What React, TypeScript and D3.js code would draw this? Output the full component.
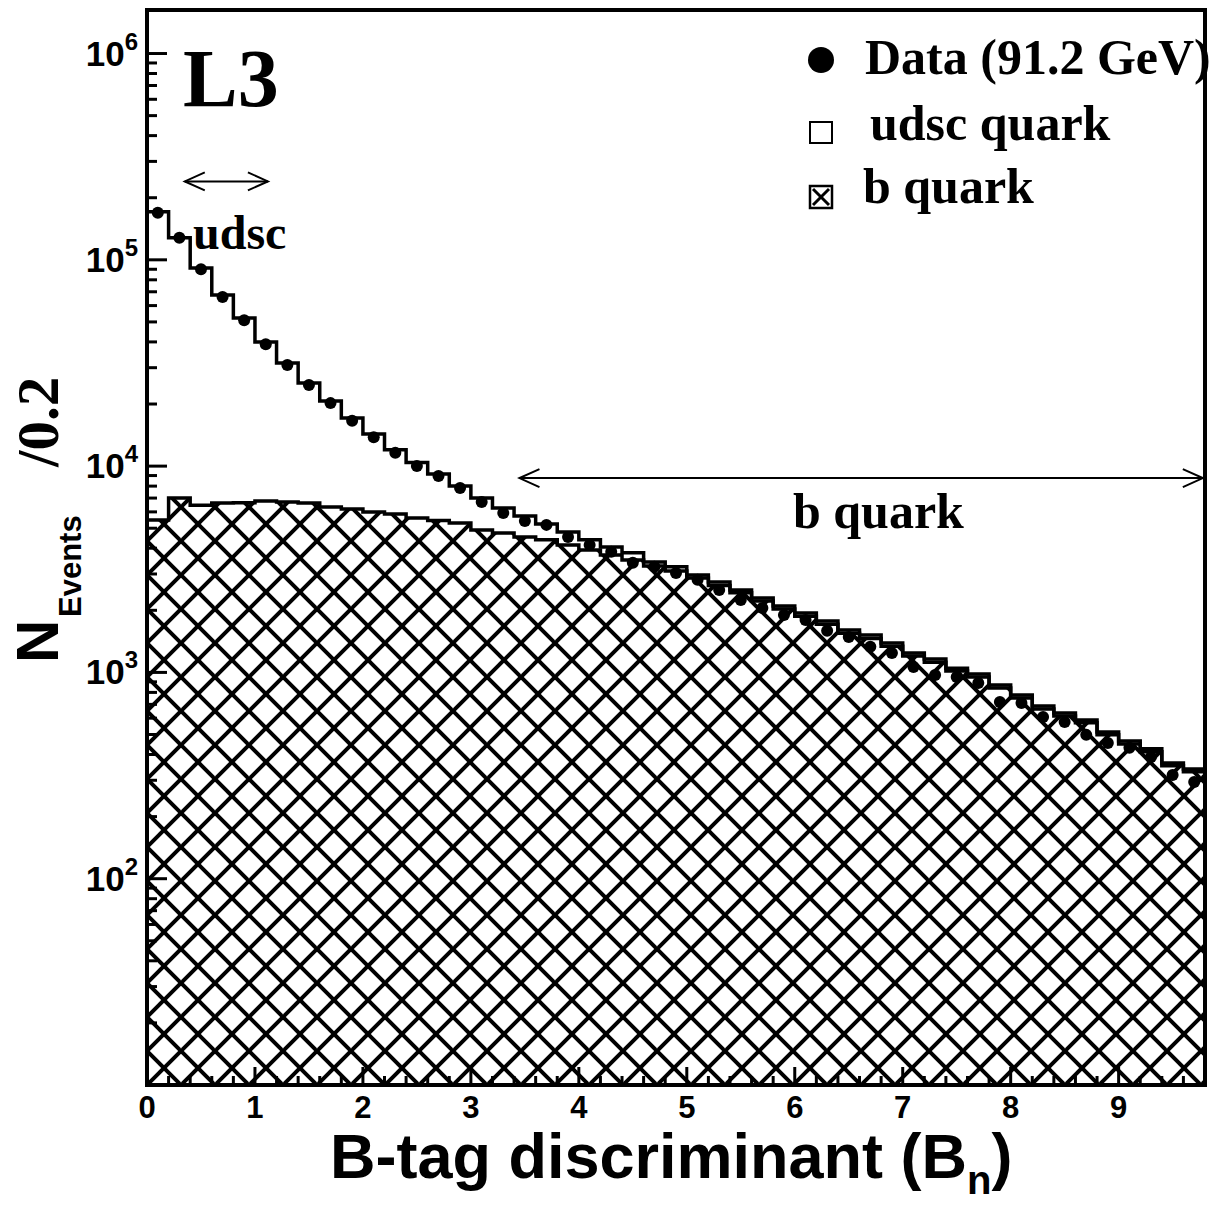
import React from "react";
import * as d3 from "d3";

// ---- data (bins of width 0.2 from 0 to 9.8) ----
const binWidth = 0.2;
const nBins = 49;

const dataCounts = [
  169000, 128000, 90000, 66000, 51000, 39000, 30900, 24700, 20200, 16600,
  13800, 11600, 10000, 8960, 7830, 6700, 5930, 5420, 5190, 4530,
  4150, 3840, 3400, 3250, 3030, 2810, 2506, 2243, 2052, 1897,
  1794, 1590, 1485, 1330, 1242, 1063, 972, 950, 889, 719,
  711, 608, 575, 498, 455, 431, 389, 318, 294,
];

const mcTotal = [
  171000, 128000, 91200, 67500, 52200, 40000, 31600, 25300, 20700, 17100,
  14300, 12000, 10400, 9160, 8010, 7000, 6260, 5730, 5240, 4790,
  4390, 4060, 3800, 3430, 3250, 2970, 2740, 2510, 2296, 2100,
  1940, 1775, 1606, 1518, 1389, 1242, 1161, 1049, 982, 869,
  777, 687, 636, 588, 514, 465, 426, 364, 340,
];

const bQuark = [
  5480, 7000, 6470, 6620, 6640, 6780, 6700, 6620, 6340, 6200,
  5990, 5860, 5600, 5450, 5300, 4900, 4740, 4530, 4390, 4150,
  3920, 3710, 3510, 3280, 3100, 2870, 2640, 2430, 2220, 2030,
  1870, 1710, 1550, 1460, 1340, 1200, 1120, 1015, 950, 840,
  752, 665, 615, 570, 498, 450, 413, 353, 330,
];

const xTickLabels = ["0", "1", "2", "3", "4", "5", "6", "7", "8", "9"];
const yDecades = [2, 3, 4, 5, 6];

const SANS = "'Liberation Sans', Arial, Helvetica, sans-serif";
const SERIF = "'Liberation Serif', 'Times New Roman', serif";

export default function App() {
  const W = 1213;
  const H = 1205;
  const left = 147;
  const right = 1205;
  const top = 10;
  const bottom = 1085;

  const x = d3.scaleLinear().domain([0, nBins * binWidth]).range([left, right]);
  const y = d3.scaleLog().domain([10, Math.pow(10, 6.211)]).range([bottom, top]);

  const edges = d3.range(nBins + 1).map((i) => i * binWidth);
  const stepPts = (vals: number[]) => {
    const pts: [number, number][] = vals.map((v, i) => [edges[i], v]);
    pts.push([edges[nBins], vals[nBins - 1]]);
    return pts;
  };

  const line = d3
    .line<[number, number]>()
    .x((d) => x(d[0]))
    .y((d) => y(d[1]))
    .curve(d3.curveStepAfter);
  const area = d3
    .area<[number, number]>()
    .x((d) => x(d[0]))
    .y0(bottom)
    .y1((d) => y(d[1]))
    .curve(d3.curveStepAfter);

  const totalPath = line(stepPts(mcTotal)) || "";
  const bLine = line(stepPts(bQuark)) || "";
  const bArea = area(stepPts(bQuark)) || "";

  // y ticks
  const yTicks: { v: number; major: boolean }[] = [];
  for (let d = 1; d <= 6; d++) {
    for (let k = 1; k <= 9; k++) {
      const v = k * Math.pow(10, d);
      if (v > 10 && v <= y.domain()[1]) yTicks.push({ v, major: k === 1 });
    }
  }
  // x ticks
  const xMinor = d3.range(0, nBins + 1).map((i) => i * binWidth);

  const hatchW = 34;

  // arrows
  const udscY = y(2.4e5);
  const udscX0 = x(0.35);
  const udscX1 = x(1.12);
  const bArrY = y(8750);
  const bArrX0 = x(3.45);
  const bArrX1 = x(9.78);
  const ah = 20;
  const aw = 9;

  return (
    <svg
      width={W}
      height={H}
      viewBox={`0 0 ${W} ${H}`}
      style={{ position: "absolute", left: 0, top: 0, background: "#fff" }}
    >
      <defs>
        <pattern
          id="hatch"
          patternUnits="userSpaceOnUse"
          width={hatchW}
          height={hatchW}
          x={left}
          y={bottom}
        >
          <line x1={-2} y1={-2} x2={hatchW + 2} y2={hatchW + 2} stroke="#000" strokeWidth={4} />
          <line x1={-2} y1={hatchW + 2} x2={hatchW + 2} y2={-2} stroke="#000" strokeWidth={4} />
        </pattern>
        <clipPath id="plotclip">
          <rect x={left} y={top} width={right - left} height={bottom - top} />
        </clipPath>
      </defs>
      <rect x={0} y={0} width={W} height={H} fill="#fff" />

      <g clipPath="url(#plotclip)">
        <path d={bArea} fill="#fff" />
        <path d={bArea} fill="url(#hatch)" />
        <path d={bLine} fill="none" stroke="#000" strokeWidth={3.5} />
        <path d={totalPath} fill="none" stroke="#000" strokeWidth={3.5} />
        {dataCounts.map((v, i) => (
          <circle key={i} cx={x(edges[i] + binWidth / 2)} cy={y(v)} r={6} fill="#000" />
        ))}
      </g>

      {/* frame */}
      <rect x={left} y={top} width={right - left} height={bottom - top} fill="none" stroke="#000" strokeWidth={4} />

      {/* y ticks */}
      {yTicks.map((t, i) => (
        <line key={i} x1={left} x2={left + (t.major ? 20 : 10)} y1={y(t.v)} y2={y(t.v)} stroke="#000" strokeWidth={3} />
      ))}
      {yDecades.map((d) => (
        <text key={d} x={138} y={y(Math.pow(10, d)) + 12} textAnchor="end" fontFamily={SANS} fontWeight="bold" fontSize={35}>
          10
          <tspan fontSize={24} dy={-16}>{d}</tspan>
        </text>
      ))}

      {/* x ticks */}
      {xMinor.map((v, i) => {
        const major = Math.abs(v - Math.round(v)) < 1e-6;
        return (
          <line key={i} x1={x(v)} x2={x(v)} y1={bottom} y2={bottom - (major ? 18 : 9)} stroke="#000" strokeWidth={3} />
        );
      })}
      {xTickLabels.map((lab, i) => (
        <text key={lab} x={x(i)} y={1118} textAnchor="middle" fontFamily={SANS} fontWeight="bold" fontSize={31}>
          {lab}
        </text>
      ))}

      {/* axis titles */}
      <text x={330} y={1178} fontFamily={SANS} fontWeight="bold" fontSize={63}>
        B-tag discriminant (B
        <tspan fontSize={40} dy={16}>n</tspan>
        <tspan fontSize={63} dy={-16}>)</tspan>
      </text>
      <text transform="translate(58,663) rotate(-90)" fontFamily={SANS} fontWeight="bold" fontSize={60}>N</text>
      <text transform="translate(81,617) rotate(-90)" fontFamily={SANS} fontWeight="bold" fontSize={31}>Events</text>
      <text transform="translate(58,467) rotate(-90)" fontFamily={SERIF} fontWeight="bold" fontSize={59}>/0.2</text>

      {/* L3 */}
      <text x={183} y={106} fontFamily={SERIF} fontWeight="bold" fontSize={82}>L3</text>

      {/* udsc arrow */}
      <g stroke="#000" strokeWidth={2} fill="none">
        <line x1={udscX0} x2={udscX1} y1={udscY} y2={udscY} />
        <polyline points={`${udscX0 + ah},${udscY - aw} ${udscX0},${udscY} ${udscX0 + ah},${udscY + aw}`} />
        <polyline points={`${udscX1 - ah},${udscY - aw} ${udscX1},${udscY} ${udscX1 - ah},${udscY + aw}`} />
      </g>
      <text x={193} y={249} fontFamily={SERIF} fontWeight="bold" fontSize={48}>udsc</text>

      {/* b quark arrow */}
      <g stroke="#000" strokeWidth={2} fill="none">
        <line x1={bArrX0} x2={bArrX1} y1={bArrY} y2={bArrY} />
        <polyline points={`${bArrX0 + ah},${bArrY - aw} ${bArrX0},${bArrY} ${bArrX0 + ah},${bArrY + aw}`} />
        <polyline points={`${bArrX1 - ah},${bArrY - aw} ${bArrX1},${bArrY} ${bArrX1 - ah},${bArrY + aw}`} />
      </g>
      <text x={793} y={528} fontFamily={SERIF} fontWeight="bold" fontSize={50}>b quark</text>

      {/* legend */}
      <circle cx={821} cy={60} r={13} fill="#000" />
      <text x={865} y={74} fontFamily={SERIF} fontWeight="bold" fontSize={50}>Data (91.2 GeV)</text>
      <rect x={810} y={122} width={22} height={21} fill="#fff" stroke="#000" strokeWidth={2} />
      <text x={870} y={140} fontFamily={SERIF} fontWeight="bold" fontSize={50}>udsc quark</text>
      <rect x={810} y={186} width={22} height={22} fill="#fff" stroke="#000" strokeWidth={2.5} />
      <line x1={813} y1={189} x2={829} y2={205} stroke="#000" strokeWidth={3} />
      <line x1={813} y1={205} x2={829} y2={189} stroke="#000" strokeWidth={3} />
      <text x={863} y={203} fontFamily={SERIF} fontWeight="bold" fontSize={50}>b quark</text>
    </svg>
  );
}
